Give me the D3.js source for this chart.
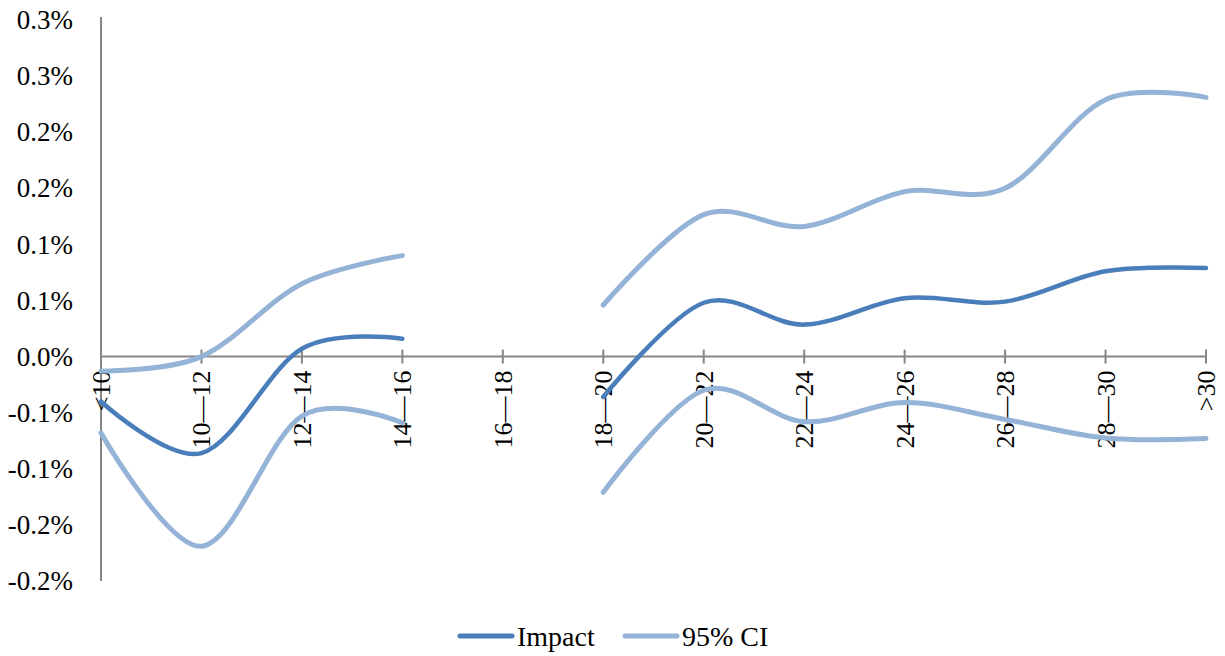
<!DOCTYPE html>
<html>
<head>
<meta charset="utf-8">
<script src="https://cdn.jsdelivr.net/npm/d3@7"></script>
<style>
  html, body { margin: 0; padding: 0; background: #fff; }
  svg { display: block; }
</style>
</head>
<body>
<svg id="chart" width="1225" height="656"></svg>
<script>
// ---- data (values in percent) ----
const categories = ["<10", "10\u201412", "12\u201414", "14\u201416", "16\u201418", "18\u201420",
                    "20\u201422", "22\u201424", "24\u201426", "26\u201428", "28\u201430", ">30"];
const impact  = [-0.040, -0.086, 0.007, 0.016, null, -0.036, 0.048, 0.0285, 0.052, 0.049, 0.076, 0.079];
const ciUpper = [-0.013, 0.000, 0.065, 0.090, null, 0.046, 0.1265, 0.116, 0.147, 0.150, 0.229, 0.231];
const ciLower = [-0.068, -0.169, -0.053, -0.059, null, -0.121, -0.030, -0.058, -0.041, -0.056, -0.0725, -0.073];
const yTickValues = [0.30, 0.25, 0.20, 0.15, 0.10, 0.05, 0.00, -0.05, -0.10, -0.15, -0.20];
const yTickLabels = ["0.3%", "0.3%", "0.2%", "0.2%", "0.1%", "0.1%", "0.0%", "-0.1%", "-0.1%", "-0.2%", "-0.2%"];
const seriesNames = ["Impact", "95% CI"];

// ---- layout ----
const FONT = '"Liberation Serif", "Times New Roman", serif';
const svg = d3.select("#chart");
const mLeft = 101, mRight = 1206, mTop = 20, mBottom = 581;
const axisColor = "#868686";
const impactColor = "#4a7ebb";
const ciColor = "#95b3d7";

const x = d3.scalePoint().domain(categories).range([mLeft, mRight]);
const y = d3.scaleLinear().domain([-0.2, 0.3]).range([mBottom, mTop]);

// y axis
const yAxis = d3.axisLeft(y).tickValues(yTickValues)
  .tickFormat((d, i) => yTickLabels[i]).tickSize(0).tickPadding(28);
const gy = svg.append("g").attr("transform", `translate(${mLeft},0)`).call(yAxis)
  .attr("font-family", FONT).attr("font-size", 27);
gy.select(".domain").attr("stroke", axisColor).attr("stroke-width", 2)
  .attr("d", `M0,${mTop - 3}V${mBottom}`);
gy.selectAll("text").attr("fill", "#000");

// x axis at zero
const x0 = y(0);
const gx = svg.append("g").attr("transform", `translate(0,${x0})`)
  .attr("font-family", FONT).attr("font-size", 26);
gx.append("line").attr("x1", mLeft).attr("x2", mRight).attr("y1", 0).attr("y2", 0)
  .attr("stroke", axisColor).attr("stroke-width", 2);
gx.selectAll("line.tick").data(categories).enter().append("line")
  .attr("class", "tick")
  .attr("x1", d => x(d)).attr("x2", d => x(d))
  .attr("y1", -7).attr("y2", 7)
  .attr("stroke", axisColor).attr("stroke-width", 2);
gx.selectAll("text.xl").data(categories).enter().append("text")
  .attr("class", "xl")
  .attr("transform", d => `translate(${x(d) + 9},14) rotate(-90)`)
  .attr("text-anchor", "end")
  .attr("fill", "#000")
  .attr("font-family", FONT)
  .attr("font-size", 26)
  .text(d => d);

// lines
const line = d3.line()
  .defined(d => d.v !== null)
  .x(d => x(d.c))
  .y(d => y(d.v))
  .curve(d3.curveCatmullRom.alpha(0));

function draw(values, color, width) {
  const data = categories.map((c, i) => ({ c, v: values[i] }));
  svg.append("path").datum(data)
    .attr("d", line)
    .attr("fill", "none")
    .attr("stroke", color)
    .attr("stroke-width", width)
    .attr("stroke-linecap", "round")
    .attr("stroke-linejoin", "round");
}
draw(ciUpper, ciColor, 5);
draw(ciLower, ciColor, 5);
draw(impact, impactColor, 4.5);

// legend
const legend = svg.append("g").attr("font-family", FONT).attr("font-size", 28);
const items = [
  { name: seriesNames[0], color: impactColor, x: 460 },
  { name: seriesNames[1], color: ciColor, x: 625 }
];
items.forEach(it => {
  legend.append("line")
    .attr("x1", it.x).attr("x2", it.x + 52)
    .attr("y1", 636).attr("y2", 636)
    .attr("stroke", it.color).attr("stroke-width", 5)
    .attr("stroke-linecap", "round");
  legend.append("text")
    .attr("x", it.x + 57).attr("y", 646)
    .attr("fill", "#000")
    .text(it.name);
});
</script>
</body>
</html>
